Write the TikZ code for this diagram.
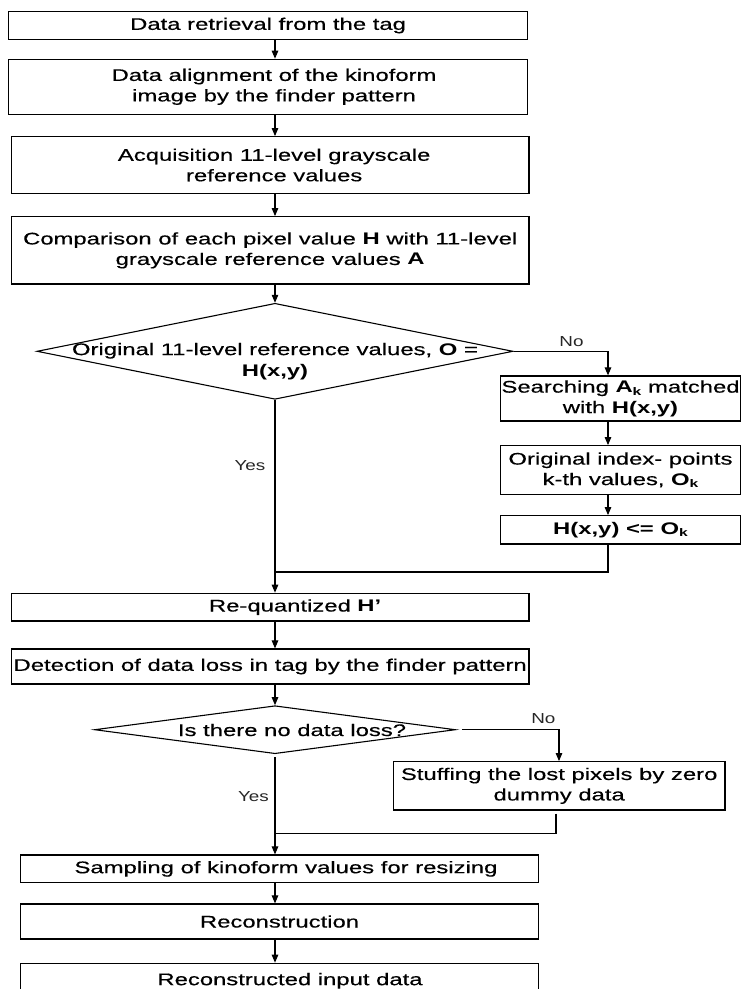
\documentclass[tikz,border=0pt]{standalone}
\usepackage{fontspec}
\setmainfont{Liberation Sans}
\newfontfamily\boxfont{Liberation Sans}[UprightFeatures={FakeBold=0.35}]
\usepackage{graphicx}
\usetikzlibrary{arrows.meta,shapes.geometric}
\newcommand{\sx}[1]{\scalebox{1.42}[1]{#1}}
\newcommand{\lx}[1]{\scalebox{1.3}[1]{#1}}
\newcommand{\sbk}{\raisebox{-2.5pt}{\fontsize{11}{11}\selectfont\bfseries k}}
\begin{document}
\begin{tikzpicture}[x=1pt,y=-1pt,
  box/.style={draw, line width=1.2pt, inner sep=0pt, align=center,
    font=\boxfont\fontsize{16.8}{20.5}\selectfont},
  dia/.style={draw, diamond, line width=1.1pt, inner sep=0pt},
  txt/.style={inner sep=0pt, align=center, font=\boxfont\fontsize{16.8}{21.5}\selectfont},
  conn/.style={line width=1.1pt},
  arr/.style={conn, -{Triangle[length=8pt,width=6.5pt]}},
  lbl/.style={inner sep=0pt, font=\fontsize{14.5}{16}\selectfont, text=black!85}
]
\useasboundingbox (0,0) rectangle (740,989);
\coordinate (colx) at (275,0);
\coordinate (rcol) at (608,0);
\coordinate (scol) at (559,0);
\coordinate (scol2) at (556,0);
\coordinate (m1) at (275,572);
\coordinate (m2) at (275,833.3);

% main column
\node[box, minimum width=519.1, minimum height=27.6] (b1) at (268.05,25.5)
  {\sx{Data retrieval from the tag}};
\node[box, minimum width=519.1, minimum height=55] (b2) at (268.05,86.8)
  {\hspace*{12pt}\sx{Data alignment of the kinoform}\\\hspace*{12pt}\sx{image by the finder pattern}};
\node[box, minimum width=517.7, minimum height=56.6] (b3) at (270.15,165)
  {\hspace*{8pt}\sx{Acquisition 11-level grayscale}\\\hspace*{8pt}\sx{reference values}};
\node[box, minimum width=517.7, minimum height=67.3] (b4) at (270.15,250.35)
  {\sx{Comparison of each pixel value \textbf{H} with 11-level}\\\sx{grayscale reference values \textbf{A}}};

% first decision
\node[dia, minimum width=476, minimum height=96] (d1) at (275,351.3) {};
\node[txt] (d1txt) at (275,361.5)
  {\sx{Original 11-level reference values, \textbf{O} =}\\\sx{\textbf{H(x,y)}}};

% right branch
\node[box, minimum width=240, minimum height=45] (r1) at (620.5,398.5)
  {\sx{Searching \textbf{A}\sbk\ matched}\\\sx{with \textbf{H(x,y)}}};
\node[box, minimum width=240, minimum height=48.6] (r2) at (620.5,470)
  {\sx{Original index- points}\\\sx{k-th values, \textbf{O}\sbk}};
\node[box, minimum width=240, minimum height=28.3] (r3) at (620.5,529.85)
  {\sx{\textbf{H(x,y) <= O}\sbk}};

\node[box, minimum width=517.7, minimum height=27.7] (b5) at (270.15,607.15)
  {\hspace*{50pt}\sx{Re-quantized \textbf{H’}}};
\node[box, minimum width=517.7, minimum height=35] (b6) at (270.15,666.5)
  {\sx{Detection of data loss in tag by the finder pattern}};

% second decision
\node[dia, minimum width=360.8, minimum height=48] (d2) at (275,729.7) {};
\node[txt] (d2txt) at (292,730) {\sx{Is there no data loss?}};

\node[box, minimum width=331.7, minimum height=48.3] (s) at (559.15,785.85)
  {\sx{Stuffing the lost pixels by zero}\\\sx{dummy data}};

\node[box, minimum width=518.4, minimum height=27.7] (b7) at (279.5,868.85)
  {\hspace*{13pt}\sx{Sampling of kinoform values for resizing}};
\node[box, minimum width=518.4, minimum height=35] (b8) at (279.5,921.5)
  {\sx{Reconstruction}};
\node[box, minimum width=518.4, minimum height=35] (b9) at (279.5,980.8)
  {\hspace*{21pt}\sx{Reconstructed input data}};

% labels
\node[lbl] (no1) at (571.5,341.7) {\lx{No}};
\node[lbl] (yes1) at (250,465.7) {\lx{Yes}};
\node[lbl] (no2) at (543.3,719) {\lx{No}};
\node[lbl] (yes2) at (253.5,796.7) {\lx{Yes}};

% connectors
\draw[arr] (b1.south -| colx) -- (b2.north -| colx);
\draw[arr] (b2.south -| colx) -- (b3.north -| colx);
\draw[arr] (b3.south -| colx) -- (b4.north -| colx);
\draw[arr] (b4.south -| colx) -- (d1.north);
\draw[arr] (d1.east) -| (r1.north -| rcol);
\draw[arr] (r1.south -| rcol) -- (r2.north -| rcol);
\draw[arr] (r2.south -| rcol) -- (r3.north -| rcol);
\draw[conn] (r3.south -| rcol) |- (m1);
\draw[arr] (d1.south) -- (b5.north -| colx);
\draw[arr] (b5.south -| colx) -- (b6.north -| colx);
\draw[arr] (b6.south -| colx) -- (d2.north);
\draw[arr] ([xshift=6pt]d2.east) -| (s.north -| scol);
\draw[conn] ([yshift=-3pt]s.south -| scol2) |- (m2);
\draw[arr] ([yshift=-3pt]d2.south) -- (b7.north -| colx);
\draw[arr] (b7.south -| colx) -- (b8.north -| colx);
\draw[arr] (b8.south -| colx) -- (b9.north -| colx);
\end{tikzpicture}
\end{document}
